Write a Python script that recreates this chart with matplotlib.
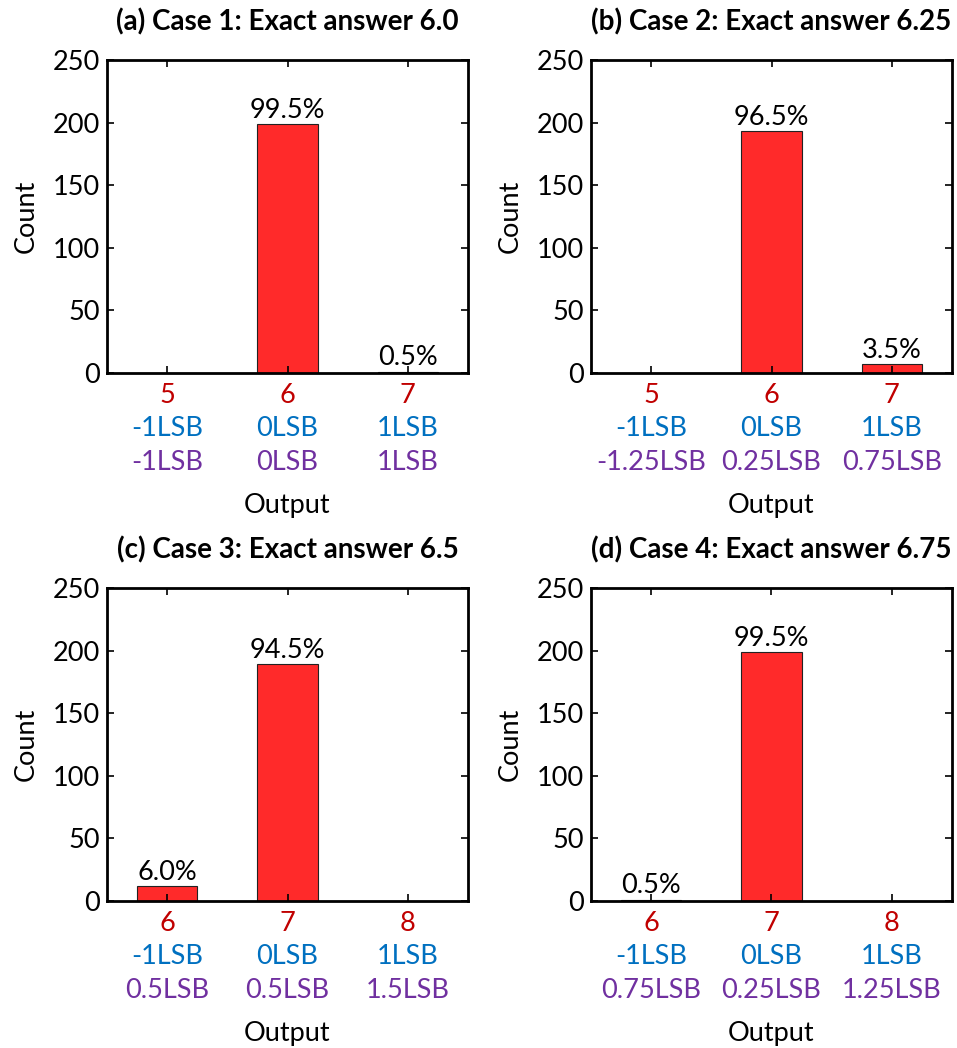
import numpy as np
import matplotlib
matplotlib.use('Agg')
from matplotlib import pyplot as plt
from matplotlib import transforms

plt.rcParams['font.family'] = ['Lato', 'DejaVu Sans']

# Data for the four cases
titles = ['(a) Case 1: Exact answer 6.0', '(b) Case 2: Exact answer 6.25',
          '(c) Case 3: Exact answer 6.5', '(d) Case 4: Exact answer 6.75']
outputs = [[5, 6, 7], [5, 6, 7], [6, 7, 8], [6, 7, 8]]
counts = [[0, 199, 1], [0, 193, 7], [12, 189, 0], [1, 199, 0]]
pct_labels = [[None, '99.5%', '0.5%'], [None, '96.5%', '3.5%'],
              ['6.0%', '94.5%', None], ['0.5%', '99.5%', None]]
err_int = [['-1LSB', '0LSB', '1LSB']] * 4
err_exact = [['-1LSB', '0LSB', '1LSB'],
             ['-1.25LSB', '0.25LSB', '0.75LSB'],
             ['0.5LSB', '0.5LSB', '1.5LSB'],
             ['0.75LSB', '0.25LSB', '1.25LSB']]

RED = '#C00000'
BLUE = '#0070C0'
PURPLE = '#7030A0'
FS = 19.5

fig = plt.figure(figsize=(9.57, 10.48), dpi=100)

# axes positions in pixels (left, top) in the reference image
W, H = 957, 1048
boxes = [(107, 60), (591, 60), (107, 588), (591, 588)]
aw, ah = 361, 313

for i in range(4):
    l, t = boxes[i]
    ax = fig.add_axes([l / W, 1 - (t + ah) / H, aw / W, ah / H])
    x = outputs[i]
    ax.bar(x, counts[i], width=0.5, color='#FF2A2A', edgecolor='#222222', linewidth=0.8)
    for xi, c, lab in zip(x, counts[i], pct_labels[i]):
        if lab:
            ax.text(xi, c + 1, lab, ha='center', va='bottom', fontsize=FS)
    ax.set_xlim(x[0] - 0.5, x[-1] + 0.5)
    ax.set_ylim(0, 250)
    ax.set_yticks([0, 50, 100, 150, 200, 250])
    ax.set_xticks(x)
    ax.set_xticklabels([str(v) for v in x], color=RED, fontsize=FS)
    ax.tick_params(axis='both', direction='in', top=True, right=True, length=5, width=1.2,
                   labelsize=FS, pad=5)
    ax.tick_params(axis='x', labelcolor=RED, pad=7)
    for s in ax.spines.values():
        s.set_linewidth(2)
    ax.set_ylabel('Count', fontsize=FS, labelpad=10)
    ax.set_title(titles[i], fontsize=20, fontweight='bold', pad=21)

    trans = transforms.blended_transform_factory(ax.transData, ax.transAxes)
    for xi, a, b in zip(x, err_int[i], err_exact[i]):
        ax.text(xi, -55 / ah, a, transform=trans, ha='center', va='center',
                color=BLUE, fontsize=FS)
        ax.text(xi, -89 / ah, b, transform=trans, ha='center', va='center',
                color=PURPLE, fontsize=FS)
    ax.text(0.5, -132 / ah, 'Output', transform=ax.transAxes, ha='center', va='center',
            fontsize=FS)

fig.savefig('out.png', dpi=100)
